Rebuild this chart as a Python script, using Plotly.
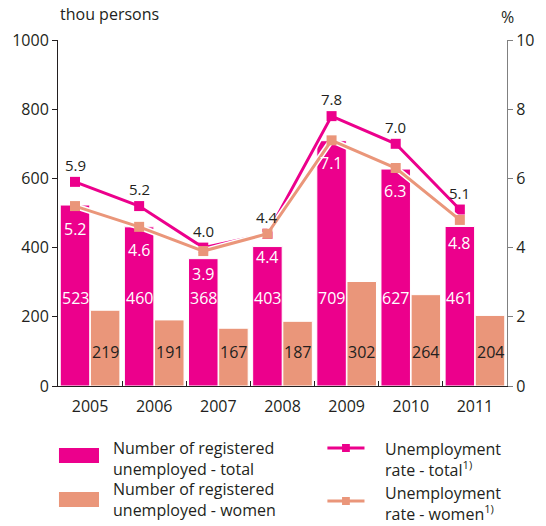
import plotly.graph_objects as go

# Data
years = ["2005", "2006", "2007", "2008", "2009", "2010", "2011"]
unemployed_total = [523, 460, 368, 403, 709, 627, 461]
unemployed_women = [219, 191, 167, 187, 302, 264, 204]
rate_total = [5.9, 5.2, 4.0, 4.4, 7.8, 7.0, 5.1]
rate_women = [5.2, 4.6, 3.9, 4.4, 7.1, 6.3, 4.8]

PINK = "#EC008C"
SALMON = "#EA967A"
TEXT = "#231F20"
FONT = "Open Sans"
FS = 16

idx = list(range(len(years)))
off = 0.235
x_total = [i - off for i in idx]
x_women = [i + off for i in idx]

fig = go.Figure()

fig.add_trace(go.Bar(x=x_total, y=unemployed_total, width=0.46,
                     marker=dict(color=PINK, line=dict(color="white", width=1)),
                     showlegend=False))
fig.add_trace(go.Bar(x=x_women, y=unemployed_women, width=0.46,
                     marker=dict(color=SALMON, line=dict(color="white", width=1)),
                     showlegend=False))

# rate lines (white halo underneath each)
for rates, col in ((rate_total, PINK), (rate_women, SALMON)):
    fig.add_trace(go.Scatter(x=x_total, y=rates, yaxis="y2", mode="lines",
                             line=dict(color="white", width=6),
                             hoverinfo="skip", showlegend=False))
    fig.add_trace(go.Scatter(x=x_total, y=rates, yaxis="y2", mode="lines+markers",
                             line=dict(color=col, width=3),
                             marker=dict(symbol="square", size=10, color=col),
                             showlegend=False))

ann = []
for i in idx:
    ann.append(dict(x=x_total[i], y=255, xref="x", yref="y", text=str(unemployed_total[i]),
                    showarrow=False, font=dict(color="white", size=FS, family=FONT)))
    ann.append(dict(x=x_women[i], y=98, xref="x", yref="y", text=str(unemployed_women[i]),
                    showarrow=False, font=dict(color=TEXT, size=FS, family=FONT)))
    ann.append(dict(x=x_total[i], y=rate_total[i], xref="x", yref="y2",
                    text=f"{rate_total[i]:.1f}", yshift=17, showarrow=False,
                    font=dict(color=TEXT, size=15, family=FONT)))
    ann.append(dict(x=x_total[i], y=rate_women[i], xref="x", yref="y2",
                    text=f"{rate_women[i]:.1f}", yshift=-23, showarrow=False,
                    font=dict(color="white", size=FS, family=FONT)))

# axis titles
ann.append(dict(x=0.0, y=1.0, xref="paper", yref="paper", xanchor="left", yanchor="bottom",
                yshift=13, text="thou persons", showarrow=False,
                font=dict(color=TEXT, size=FS, family=FONT)))
ann.append(dict(x=1.0, y=1.0, xref="paper", yref="paper", xanchor="center", yanchor="bottom",
                yshift=10, text="%", showarrow=False,
                font=dict(color=TEXT, size=FS, family=FONT)))

# legend
W, H, L, T = 460.0, 346.0, 56.0, 386.0
def px(x):
    return (x - L) / W
def py(y):
    return (T - y) / H

shapes = [
    dict(type="rect", xref="paper", yref="paper", x0=px(57), x1=px(98), y0=py(448), y1=py(463),
         fillcolor=PINK, line=dict(width=0)),
    dict(type="rect", xref="paper", yref="paper", x0=px(57), x1=px(98), y0=py(492), y1=py(507),
         fillcolor=SALMON, line=dict(width=0)),
    dict(type="line", xref="paper", yref="paper", x0=px(332), x1=px(370), y0=py(448), y1=py(448),
         line=dict(color=PINK, width=3)),
    dict(type="rect", xref="paper", yref="paper", x0=px(347), x1=px(355), y0=py(444), y1=py(452),
         fillcolor=PINK, line=dict(width=0)),
    dict(type="line", xref="paper", yref="paper", x0=px(332), x1=px(370), y0=py(501), y1=py(501),
         line=dict(color=SALMON, width=3)),
    dict(type="rect", xref="paper", yref="paper", x0=px(347), x1=px(355), y0=py(497), y1=py(505),
         fillcolor=SALMON, line=dict(width=0)),
]
legend_texts = [
    (110, 458, "Number of registered<br>unemployed - total"),
    (110, 499, "Number of registered<br>unemployed - women"),
    (389, 459, "Unemployment<br>rate - total<sup>1)</sup>"),
    (389, 503, "Unemployment<br>rate - women<sup>1)</sup>"),
]
for x, y, t in legend_texts:
    ann.append(dict(x=px(x), y=py(y), xref="paper", yref="paper", xanchor="left",
                    yanchor="middle", align="left", text=t, showarrow=False,
                    font=dict(color=TEXT, size=FS, family=FONT)))

fig.update_layout(
    width=546, height=526,
    margin=dict(l=56, r=30, t=40, b=140),
    paper_bgcolor="white", plot_bgcolor="white",
    barmode="overlay", showlegend=False,
    font=dict(family=FONT, color=TEXT, size=FS),
    xaxis=dict(range=[-0.5, 6.5], tickvals=idx, ticktext=years, ticks="",
               showline=True, linecolor=TEXT, linewidth=1, showgrid=False, zeroline=False,
               tickfont=dict(size=FS, color=TEXT), ticklabelstandoff=6,
               minor=dict(tickvals=[i + 0.5 for i in idx[:-1]], ticks="inside",
                          ticklen=5, tickcolor=TEXT, showgrid=False)),
    yaxis=dict(range=[0, 1000], dtick=200, ticks="outside", ticklen=5, tickcolor=TEXT,
               showline=True, linecolor=TEXT, linewidth=1, showgrid=False, zeroline=False,
               tickfont=dict(size=FS, color=TEXT)),
    yaxis2=dict(range=[0, 10], dtick=2, overlaying="y", side="right", ticks="outside",
                ticklen=5, tickcolor="#808080", showline=True, linecolor="#808080",
                linewidth=1, showgrid=False, zeroline=False,
                tickfont=dict(size=FS, color=TEXT)),
    annotations=ann, shapes=shapes,
)

fig.write_html("out.html")
